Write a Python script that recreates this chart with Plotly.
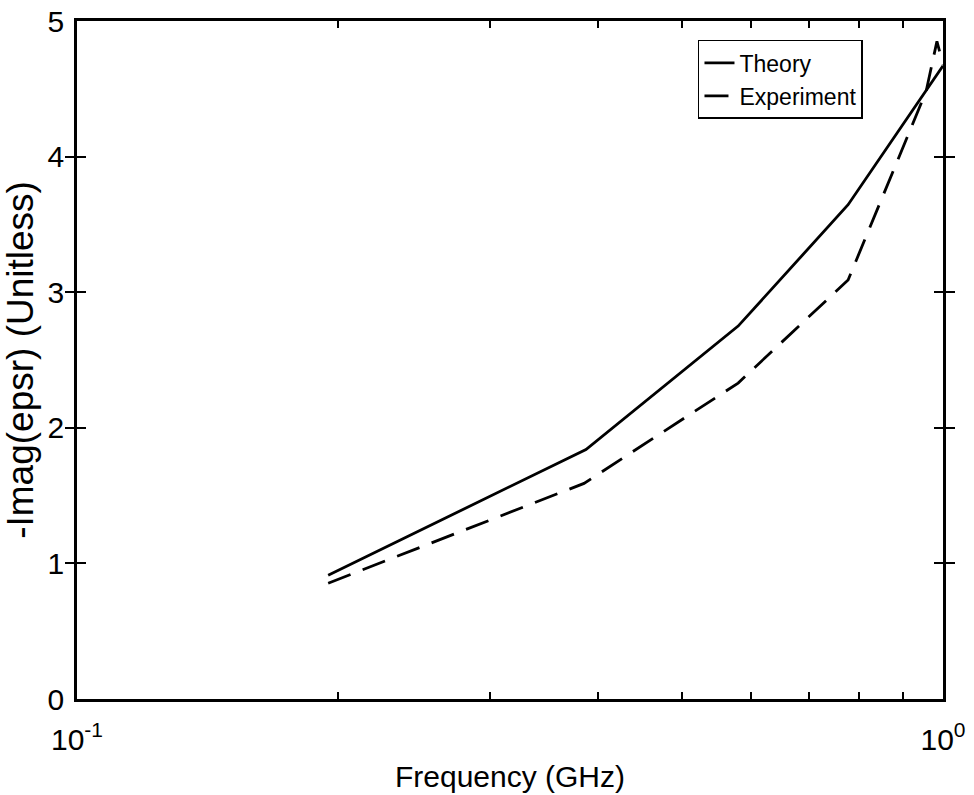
import plotly.graph_objects as go

# Frequency samples (GHz) and -Imag(epsr) values
freq_theory = [0.195, 0.387, 0.58, 0.777, 1.0]
eps_theory = [0.913, 1.84, 2.75, 3.645, 4.67]

freq_exp = [0.195, 0.385, 0.58, 0.777, 0.956, 0.984, 1.0]
eps_exp = [0.854, 1.59, 2.33, 3.09, 4.48, 4.85, 4.68]

# decade ticks carry labels, the in-between ticks are unlabeled
x_tickvals = [0.1, 0.2, 0.3, 0.4, 0.5, 0.6, 0.7, 0.8, 0.9, 1.0]
x_ticktext = ["10<sup>-1</sup>", "", "", "", "", "", "", "", "", "10<sup>0</sup>"]
y_tickvals = [0, 1, 2, 3, 4, 5]

FONT = "Liberation Sans, Arial, Helvetica, sans-serif"

fig = go.Figure()
fig.add_trace(go.Scatter(
    x=freq_theory, y=eps_theory, mode="lines", name="Theory",
    line=dict(color="black", width=2.8),
))
fig.add_trace(go.Scatter(
    x=freq_exp, y=eps_exp, mode="lines", name="Experiment",
    line=dict(color="black", width=2.8, dash="24px,13px"),
))
# transparent copy of the theory curve on the top axis so its ticks are drawn
fig.add_trace(go.Scatter(
    x=freq_theory, y=eps_theory, xaxis="x2", mode="lines",
    line=dict(width=0.1, color="rgba(0,0,0,0)"),
    showlegend=False, hoverinfo="skip",
))

fig.update_layout(
    width=974, height=795,
    margin=dict(l=77, r=31, t=21, b=96),
    paper_bgcolor="white", plot_bgcolor="rgba(0,0,0,0)",
    font=dict(family=FONT, color="black", size=30),
    showlegend=True,
    legend=dict(
        x=0.9076, y=0.972, xanchor="right", yanchor="top",
        bgcolor="white", bordercolor="black", borderwidth=1.5,
        font=dict(family=FONT, size=23),
        tracegroupgap=0, itemwidth=30,
    ),
    xaxis=dict(
        type="log", range=[-1, 0],
        tickvals=x_tickvals, ticktext=x_ticktext,
        ticks="inside", ticklen=7, tickwidth=2, tickcolor="black",
        showline=True, linecolor="black", linewidth=2.5, mirror="allticks",
        showgrid=False, zeroline=False, automargin=False,
        tickfont=dict(size=30), ticklabelstandoff=12,
        title=dict(text="Frequency (GHz)", font=dict(size=30), standoff=12),
    ),
    xaxis2=dict(
        type="log", range=[-1, 0], overlaying="x", side="top", anchor="y",
        tickvals=x_tickvals, showticklabels=False,
        ticks="inside", ticklen=7, tickwidth=2, tickcolor="black",
        showline=True, linecolor="black", linewidth=2.5,
        showgrid=False, zeroline=False, automargin=False,
    ),
    yaxis=dict(
        range=[0, 5], tickvals=y_tickvals,
        ticks="inside", ticklen=9, tickwidth=2, tickcolor="black",
        showline=True, linecolor="black", linewidth=2.5, mirror="allticks",
        showgrid=False, zeroline=False, automargin=False,
        tickfont=dict(size=30), ticklabelstandoff=4,
        title=dict(text="-Imag(epsr) (Unitless)", font=dict(size=37), standoff=4),
    ),
)

fig.write_html("out.html")
